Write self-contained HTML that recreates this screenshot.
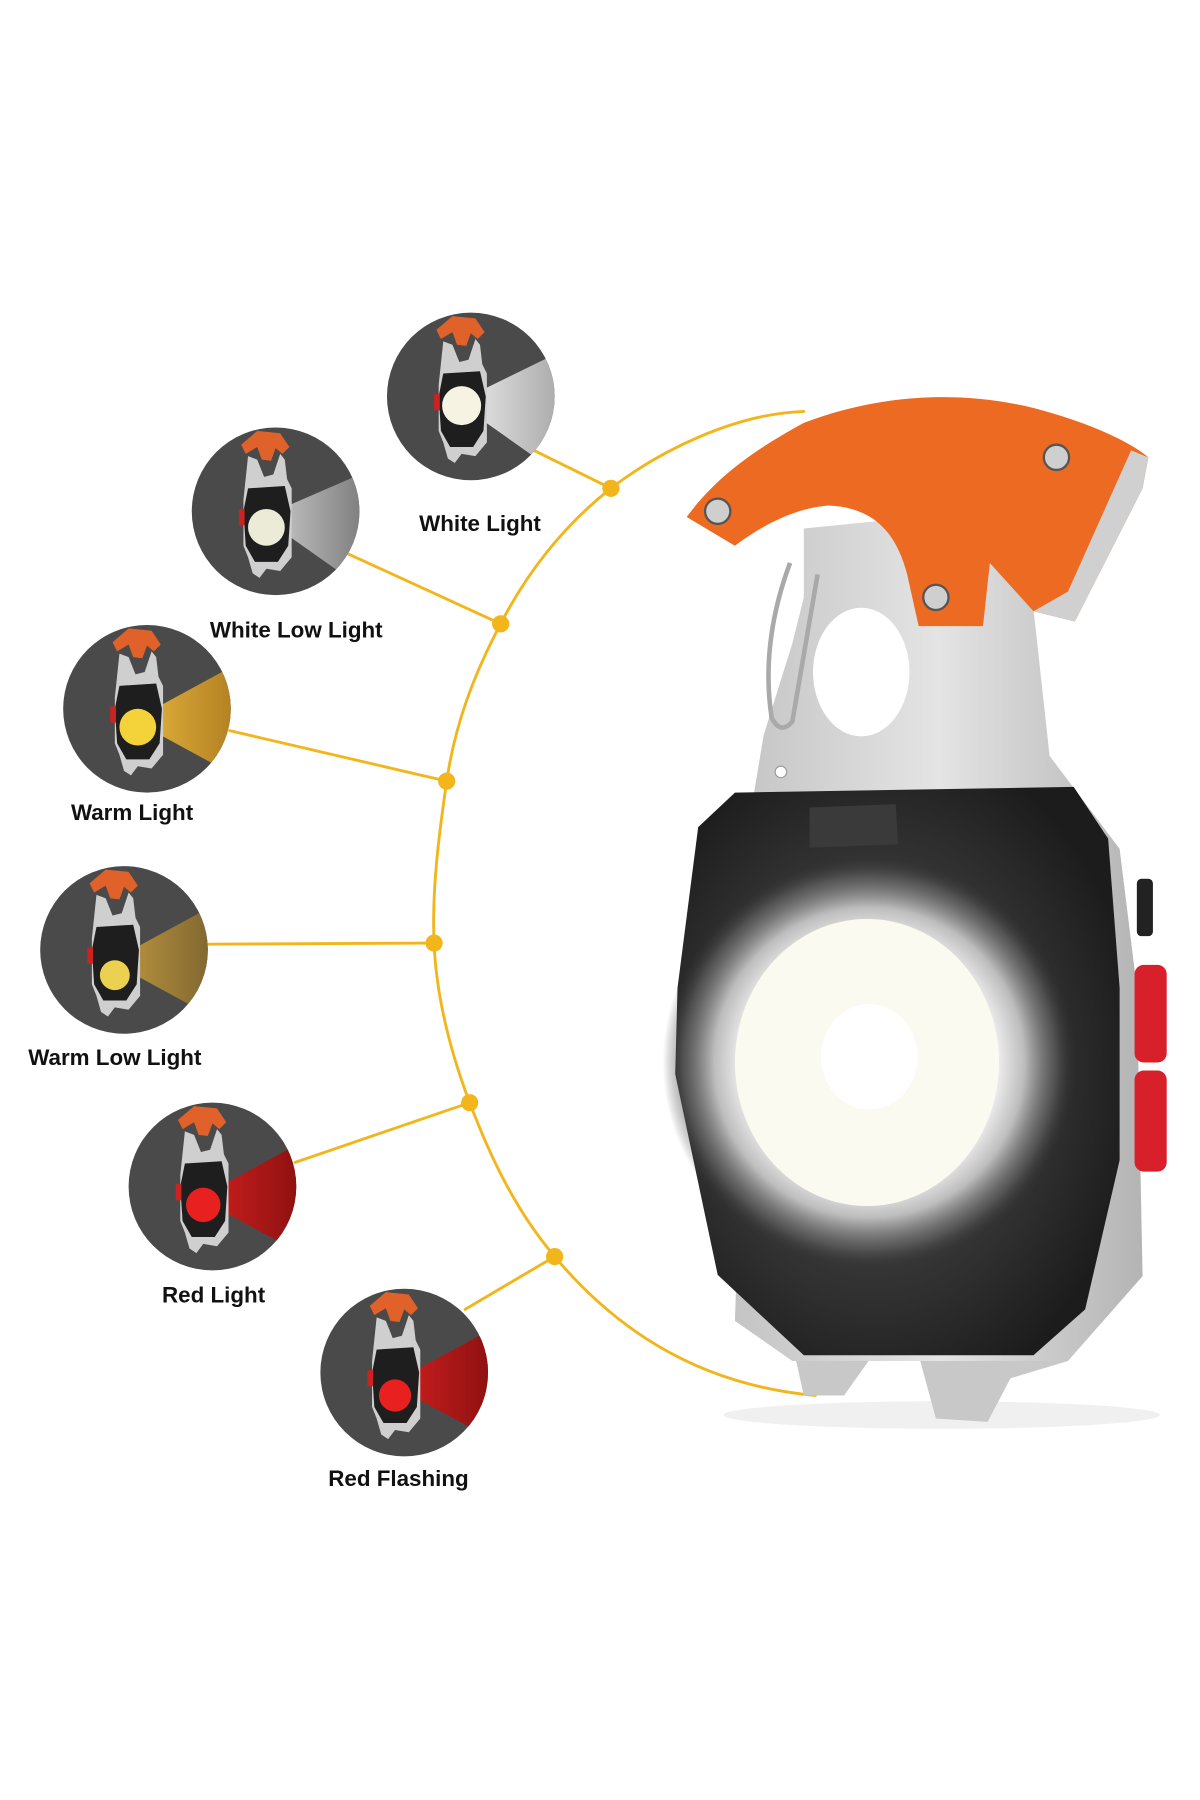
<!DOCTYPE html>
<html><head><meta charset="utf-8"><style>
html,body{margin:0;padding:0;background:#fff;}
svg{display:block;}
text{font-family:"Liberation Sans",Arial,sans-serif;font-weight:bold;font-size:19.5px;fill:#111;text-anchor:middle;}
</style></head><body>
<svg width="1200" height="1800" viewBox="0 0 1045 1567" xmlns="http://www.w3.org/2000/svg">
<defs>
<radialGradient id="glow" cx="0.5" cy="0.5" r="0.5">
<stop offset="0" stop-color="#ffffff"/><stop offset="0.5" stop-color="#f8f6ea"/><stop offset="0.62" stop-color="#eeeeee"/><stop offset="0.75" stop-color="#bdbdbd"/><stop offset="0.9" stop-color="#6a6a6a" stop-opacity="0.6"/><stop offset="1" stop-color="#333" stop-opacity="0"/>
</radialGradient>
<radialGradient id="house" cx="0.45" cy="0.5" r="0.6">
<stop offset="0" stop-color="#555"/><stop offset="0.7" stop-color="#2e2e2e"/><stop offset="1" stop-color="#1c1c1c"/>
</radialGradient>
<linearGradient id="bw" x1="0" x2="1"><stop offset="0" stop-color="#eee"/><stop offset="1" stop-color="#a8a8a8"/></linearGradient>
<linearGradient id="bwl" x1="0" x2="1"><stop offset="0" stop-color="#cfcfcf"/><stop offset="1" stop-color="#7a7a7a"/></linearGradient>
<linearGradient id="by" x1="0" x2="1"><stop offset="0" stop-color="#e6b640"/><stop offset="1" stop-color="#b07e20"/></linearGradient>
<linearGradient id="byl" x1="0" x2="1"><stop offset="0" stop-color="#c29a40"/><stop offset="1" stop-color="#7d6530"/></linearGradient>
<linearGradient id="br" x1="0" x2="1"><stop offset="0" stop-color="#d42020"/><stop offset="1" stop-color="#8a1010"/></linearGradient>
<linearGradient id="silver" x1="0" x2="1"><stop offset="0" stop-color="#c4c4c4"/><stop offset="0.5" stop-color="#e4e4e4"/><stop offset="1" stop-color="#b4b4b4"/></linearGradient>
<clipPath id="cc"><circle cx="0" cy="0" r="73"/></clipPath>
<g id="dev">
<path d="M-30,-58 L-16,-70 L4,-68 L12,-56 L6,-50 L0,-55 L-4,-44 L-12,-45 L-16,-56 L-26,-50 Z" fill="#e0622a"/>
<path d="M-24,-48 L-16,-45 L-10,-30 L-2,-32 L4,-50 L8,-45 L10,-28 L14,-20 L14,40 L4,52 L-8,50 L-14,58 L-20,54 L-24,40 L-28,30 L-28,-10 Z" fill="#cfcfcf"/>
<path d="M-24,-20 L8,-22 L13,0 L11,30 L2,44 L-18,44 L-26,30 L-28,0 Z" fill="#1e1e1e"/>
<rect x="-32" y="-2" width="5" height="14" fill="#c22"/>
</g>
</defs>

<g fill="none" stroke="#f2b61c" stroke-width="2.5" stroke-linecap="round" stroke-linejoin="round">
<path d="M700,358 C640,360 575,392 532,425 C490,458 458,500 436,543 C412,588 396,632 389,680 C382,728 376,775 378,821 C380,868 392,915 409,960 C428,1010 450,1055 483,1094 C530,1150 600,1205 710,1215"/>
<line x1="465" y1="392" x2="532" y2="425"/>
<line x1="303" y1="482" x2="436" y2="543"/>
<line x1="200" y1="636" x2="389" y2="680"/>
<line x1="182" y1="822" x2="378" y2="821"/>
<line x1="257" y1="1012" x2="409" y2="960"/>
<line x1="405" y1="1140" x2="483" y2="1094"/>
</g>
<g fill="#f2b61c">
<circle cx="532" cy="425" r="7.5"/><circle cx="436" cy="543" r="7.5"/><circle cx="389" cy="680" r="7.5"/><circle cx="378" cy="821" r="7.5"/><circle cx="409" cy="960" r="7.5"/><circle cx="483" cy="1094" r="7.5"/>
</g>

<g transform="translate(410,345)"><circle r="73" fill="#4a4a4a"/><g clip-path="url(#cc)"><polygon points="-12,5 80,-40 80,70" fill="url(#bw)"/></g><use href="#dev"/><circle cx="-8" cy="8" r="17" fill="#f6f3e2"/></g>
<g transform="translate(240,445)"><circle r="73" fill="#4a4a4a"/><g clip-path="url(#cc)"><polygon points="-12,5 80,-35 80,70" fill="url(#bwl)"/></g><use href="#dev"/><circle cx="-8" cy="14" r="16" fill="#ecebd8"/></g>
<g transform="translate(128,617)"><circle r="73" fill="#4a4a4a"/><g clip-path="url(#cc)"><polygon points="-12,10 80,-40 80,60" fill="url(#by)"/></g><use href="#dev"/><circle cx="-8" cy="16" r="16" fill="#f3d23a"/></g>
<g transform="translate(108,827)"><circle r="73" fill="#4a4a4a"/><g clip-path="url(#cc)"><polygon points="-12,10 80,-40 80,60" fill="url(#byl)"/></g><use href="#dev"/><circle cx="-8" cy="22" r="13" fill="#ecd050"/></g>
<g transform="translate(185,1033)"><circle r="73" fill="#4a4a4a"/><g clip-path="url(#cc)"><polygon points="-12,10 80,-40 80,60" fill="url(#br)"/></g><use href="#dev"/><circle cx="-8" cy="16" r="15" fill="#e82020"/></g>
<g transform="translate(352,1195)"><circle r="73" fill="#4a4a4a"/><g clip-path="url(#cc)"><polygon points="-12,10 80,-40 80,60" fill="url(#br)"/></g><use href="#dev"/><circle cx="-8" cy="20" r="14" fill="#e82020"/></g>

<text x="418" y="462">White Light</text>
<text x="258" y="555">White Low Light</text>
<text x="115" y="714">Warm Light</text>
<text x="100" y="927">Warm Low Light</text>
<text x="186" y="1134">Red Light</text>
<text x="347" y="1294">Red Flashing</text>

<!-- big flashlight -->
<ellipse cx="820" cy="1232" rx="190" ry="12" fill="#000" opacity="0.06"/>
<!-- bottom legs -->
<path d="M690,1170 L700,1215 L735,1215 L760,1180 L800,1180 L815,1235 L860,1238 L880,1200 L930,1185 L930,1150 L690,1150 Z" fill="#c8c8c8"/>
<!-- silver body -->
<path d="M655,700 L665,640 L690,560 L700,520 L700,460 L800,450 L860,470 L900,530 L914,658 L975,739 L990,860 L995,1111 L930,1185 L690,1185 L640,1150 Z" fill="url(#silver)"/>
<ellipse cx="750" cy="585" rx="42" ry="56" fill="#fff"/>
<path d="M688,490 Q662,560 672,625 Q680,640 690,628 L712,500" fill="none" stroke="#a9a9a9" stroke-width="4"/>
<circle cx="680" cy="672" r="5" fill="#fff" stroke="#999"/>
<!-- buttons -->
<rect x="990" y="765" width="14" height="50" rx="4" fill="#222"/>
<rect x="988" y="840" width="28" height="85" rx="8" fill="#d8202a"/>
<rect x="988" y="932" width="28" height="88" rx="8" fill="#d8202a"/>
<!-- dark housing -->
<path d="M608,720 L640,690 L935,685 L965,730 L975,860 L975,1010 L945,1140 L900,1180 L700,1180 L625,1110 L588,935 L590,860 Z" fill="url(#house)"/>
<path d="M705,703 L780,700 L782,735 L705,738 Z" fill="#3a3a3a"/>
<ellipse cx="757" cy="925" rx="180" ry="180" fill="url(#glow)"/>
<ellipse cx="755" cy="925" rx="115" ry="125" fill="#fbfaf0"/>
<ellipse cx="757" cy="920" rx="42" ry="46" fill="#fff"/>
<!-- orange handle -->
<path d="M598,450 C620,420 650,395 700,368 C760,345 830,338 900,355 C950,368 985,385 1000,398 L995,425 L936,541 L900,532 L862,490 L856,545 L800,545 L790,500 C780,462 760,442 722,440 C690,442 660,460 640,475 Z" fill="#ec6a22"/>
<path d="M900,532 L936,541 L995,425 L1000,398 L985,392 L930,515 Z" fill="#d0d0d0"/>
<g fill="#cfcfcf" stroke="#555" stroke-width="2"><circle cx="625" cy="445" r="11"/><circle cx="920" cy="398" r="11"/><circle cx="815" cy="520" r="11"/></g>
</svg>
</body></html>
